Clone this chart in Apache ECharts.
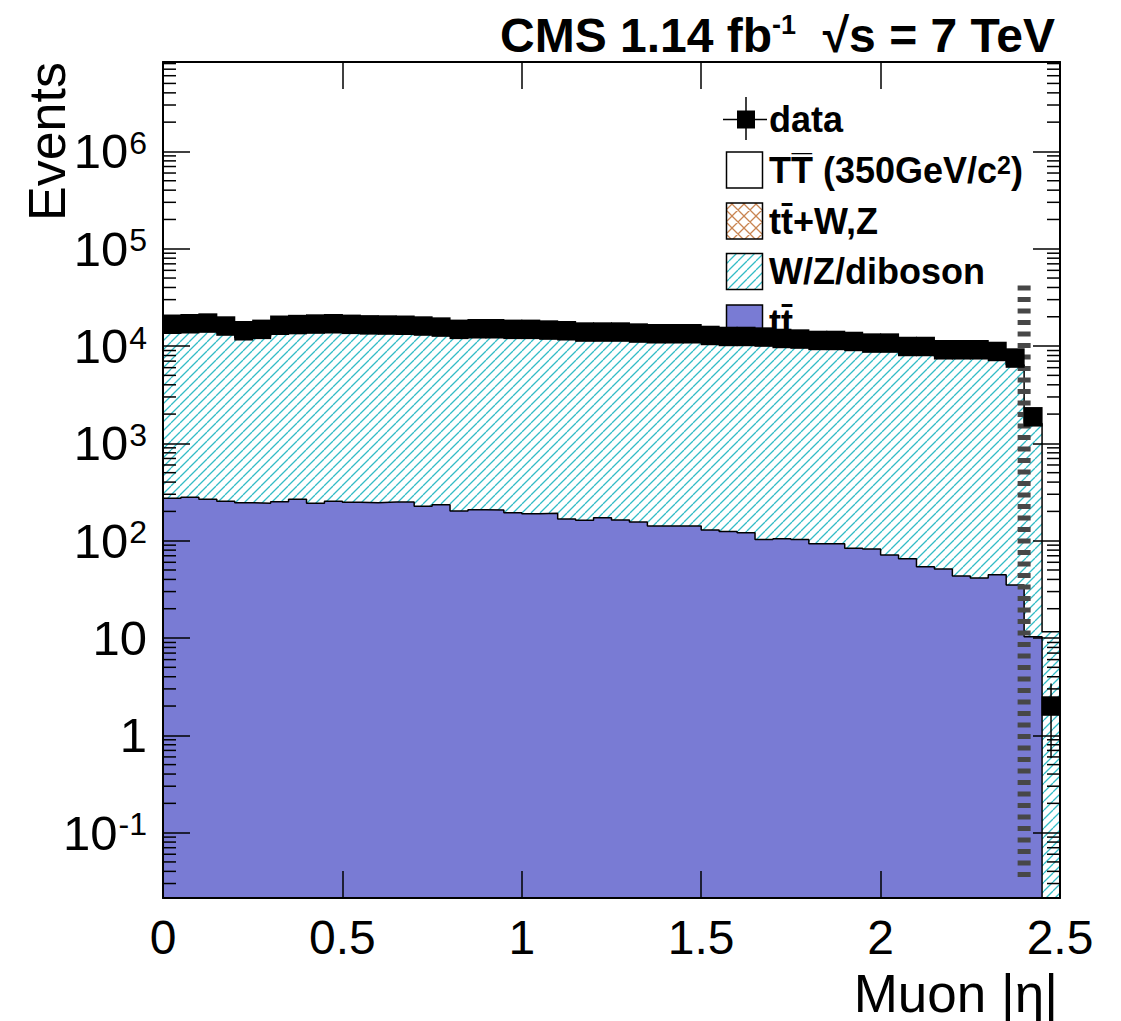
<!DOCTYPE html>
<html><head><meta charset="utf-8">
<script src="https://cdn.jsdelivr.net/npm/echarts@6/dist/echarts.min.js"></script>
<style>html,body{margin:0;padding:0;background:#fff}#c{width:1121px;height:1021px}</style>
</head><body><div id="c"></div>
<script>
// ---------------- data ----------------
const binWidth = 0.05;          // |eta| bin width
const nBins = 50;               // 0 .. 2.5
const xTickLabels = ['0', '0.5', '1', '1.5', '2', '2.5'];
const yTickExponents = [-1, 0, 1, 2, 3, 4, 5, 6];

const dataEvents = [16750, 16950, 17230, 16060, 14360, 14850, 16360, 16630, 16830, 16950,
  16720, 16510, 16440, 16360, 16060, 15670, 14850, 15060, 15060, 14850,
  14850, 14600, 14360, 13930, 13930, 13930, 13600, 13380, 13380, 13380,
  12850, 12550, 12550, 12370, 11970, 11800, 11420, 11420, 11150, 10730,
  10730, 9900, 9900, 9160, 9160, 9160, 8800, 7530, 1875, 2];

const ttbar = [273, 279, 266, 254, 246, 242, 252, 266, 242, 254,
  248, 246, 250, 250, 226, 234, 202, 208, 207, 194,
  189, 191, 167, 162, 172, 163, 156, 142, 142, 142,
  129, 124, 121, 103, 105, 103, 93, 93, 83.5, 82,
  71.3, 65.3, 54, 51.2, 43.4, 41.4, 44.7, 35, 10.3, 0];

const wzDiboson = [13970, 14130, 14380, 13400, 11960, 12380, 13660, 13870, 14070, 14150,
  13960, 13790, 13720, 13660, 13420, 13090, 12420, 12590, 12590, 12430,
  12430, 12220, 12040, 11680, 11670, 11680, 11400, 11230, 11230, 11230,
  10790, 10550, 10550, 10410, 10070, 9930, 9620, 9620, 9400, 9040,
  9050, 8350, 8360, 7740, 7740, 7750, 7430, 6370, 1590, 11.6];

const signalLineX = 2.4;                 // dashed vertical line
const signalLineRange = [0.035, 44000];

const Y_MIN = 0.0213, Y_MAX = 8.3e6;

// ---------------- helpers ----------------
const FONT = '"Liberation Sans", Arial, Helvetica, sans-serif';
function makeHatch(size, color, both) {
  const c = document.createElement('canvas');
  c.width = size; c.height = size;
  const g = c.getContext('2d');
  g.fillStyle = '#fff'; g.fillRect(0, 0, size, size);
  g.strokeStyle = color; g.lineWidth = 1.3;
  g.beginPath();
  for (let k = -1; k <= 1; k++) {
    g.moveTo(k * size, size); g.lineTo(k * size + size, 0);
    if (both) { g.moveTo(k * size, 0); g.lineTo(k * size + size, size); }
  }
  g.stroke();
  return c;
}
const hatchCanvas = makeHatch(9, '#33bcc6', false);
const crossCanvas = makeHatch(12, '#c98552', true);
const hatchPattern = { image: hatchCanvas, repeat: 'repeat' };
const crossPattern = { image: crossCanvas, repeat: 'repeat' };

function stepPoints(vals) {
  const pts = [];
  for (let i = 0; i < vals.length; i++) {
    pts.push([+(i * binWidth).toFixed(4), vals[i] > 0 ? vals[i] : Y_MIN]);
  }
  const last = vals[vals.length - 1];
  pts.push([+(vals.length * binWidth).toFixed(4), last > 0 ? last : Y_MIN]);
  return pts;
}
const totalStack = wzDiboson.map((v, i) => v + ttbar[i]);
const dataPts = dataEvents.map((v, i) => [+((i + 0.5) * binWidth).toFixed(4), v]);

const minorTickVals = [];
for (let e = -2; e <= 6; e++) for (let m = 2; m <= 9; m++) {
  const v = m * Math.pow(10, e);
  if (v > Y_MIN && v < Y_MAX) minorTickVals.push([0, v]);
}

const chart = echarts.init(document.getElementById('c'), null, { renderer: 'svg' });

const yLabelFmt = function (v) {
  const e = Math.round(Math.log10(v));
  if (yTickExponents.indexOf(e) < 0) return '';
  if (e === 0) return '{b|1}';
  if (e === 1) return '{b|10}';
  return '{b|10}{s|' + e + '}';
};
const yRich = {
  b: { fontSize: 49, fontFamily: FONT, color: '#000' },
  s: { fontSize: 32, fontFamily: FONT, color: '#000', verticalAlign: 'top', padding: [0, 0, 0, 1] }
};

const grid = { left: 163, right: 61, top: 62, bottom: 123 };

const option = {
  backgroundColor: '#fff',
  animation: false,
  grid: grid,
  xAxis: [{
    type: 'value', min: 0, max: 2.5, interval: 0.5, position: 'bottom', z: 5,
    axisLine: { show: true, onZero: false, lineStyle: { color: '#000', width: 2 } },
    axisTick: { show: true, inside: true, length: 27, lineStyle: { color: '#000', width: 1.5 } },
    axisLabel: { show: true, margin: 15, fontSize: 48, fontFamily: FONT, color: '#000',
      formatter: v => xTickLabels[Math.round(v / 0.5)] },
    splitLine: { show: false }
  }, {
    type: 'value', min: 0, max: 2.5, interval: 0.5, position: 'top', z: 5,
    axisLine: { show: true, onZero: false, lineStyle: { color: '#000', width: 2 } },
    axisTick: { show: true, inside: true, length: 27, lineStyle: { color: '#000', width: 1.5 } },
    axisLabel: { show: false }, splitLine: { show: false }
  }],
  yAxis: [{
    type: 'log', logBase: 10, min: Y_MIN, max: Y_MAX, splitNumber: 10, position: 'left', z: 5,
    axisLine: { show: true, onZero: false, lineStyle: { color: '#000', width: 2 } },
    axisTick: { show: true, inside: true, length: 27, lineStyle: { color: '#000', width: 1.5 } },
    axisLabel: { show: true, margin: 16, showMinLabel: false, showMaxLabel: false,
      formatter: yLabelFmt, rich: yRich },
    splitLine: { show: false }, minorTick: { show: false }
  }, {
    type: 'log', logBase: 10, min: Y_MIN, max: Y_MAX, splitNumber: 10, position: 'right', z: 5,
    axisLine: { show: true, onZero: false, lineStyle: { color: '#000', width: 2 } },
    axisTick: { show: true, inside: true, length: 27, lineStyle: { color: '#000', width: 1.5 } },
    axisLabel: { show: false }, splitLine: { show: false }
  }],
  series: [
    {
      name: 'W/Z/diboson', type: 'line', step: 'end', data: stepPoints(totalStack),
      showSymbol: false, symbol: 'none', z: 2, clip: true,
      lineStyle: { color: '#000', width: 1.5 },
      areaStyle: { color: hatchPattern, opacity: 1, origin: 'start' }
    },
    {
      name: 'ttbar', type: 'line', step: 'end', data: stepPoints(ttbar),
      showSymbol: false, symbol: 'none', z: 3, clip: true,
      lineStyle: { color: '#000', width: 1.5 },
      areaStyle: { color: '#797bd4', opacity: 1, origin: 'start' }
    },
    {
      name: 'signal', type: 'line', data: [[signalLineX, signalLineRange[0]], [signalLineX, signalLineRange[1]]],
      showSymbol: false, symbol: 'none', z: 4,
      lineStyle: { color: '#474747', width: 13, type: [5, 6.5], cap: 'butt' }
    },
    {
      name: 'minorTicks', type: 'custom', z: 6, silent: true,
      data: minorTickVals,
      renderItem: function (params, api) {
        const p = api.coord([0, api.value(1)]);
        const cs = params.coordSys;
        const l = cs.x, r = cs.x + cs.width;
        return { type: 'group', children: [
          { type: 'line', shape: { x1: l, y1: p[1], x2: l + 13, y2: p[1] }, style: { stroke: '#000', lineWidth: 1.5 } },
          { type: 'line', shape: { x1: r - 13, y1: p[1], x2: r, y2: p[1] }, style: { stroke: '#000', lineWidth: 1.5 } }
        ] };
      }
    },
    {
      name: 'dataErr', type: 'custom', z: 9, silent: true,
      data: dataPts,
      renderItem: function (params, api) {
        const x = api.value(0), v = api.value(1), e = Math.sqrt(v);
        const top = api.coord([x, v + e]);
        const bot = api.coord([x, Math.max(v - e, Y_MIN)]);
        return { type: 'line', shape: { x1: top[0], y1: top[1], x2: bot[0], y2: bot[1] },
          style: { stroke: '#000', lineWidth: 1.5 } };
      }
    },
    {
      name: 'data', type: 'scatter', data: dataPts, z: 10,
      symbol: 'rect', symbolSize: [19, 19.5], itemStyle: { color: '#000', opacity: 1, borderWidth: 0 }
    }
  ],
  graphic: [
    // title
    { type: 'text', right: 66, top: 11, z: 20,
      style: { text: '{t|CMS 1.14 fb}{u|-1}{t|  \u221As = 7 TeV}',
        rich: { t: { fontSize: 48, fontWeight: 'bold', fontFamily: FONT, fill: '#000' },
                u: { fontSize: 27, fontWeight: 'bold', fontFamily: FONT, fill: '#000', verticalAlign: 'top' } } } },
    // Events
    { type: 'text', x: 47, y: 62, rotation: Math.PI / 2, z: 20,
      style: { text: 'Events', fontSize: 52, fontFamily: FONT, fill: '#000', align: 'right', verticalAlign: 'middle' } },
    // Muon |eta|
    { type: 'text', x: 1058, y: 993, z: 20,
      style: { text: 'Muon |\u03b7|', fontSize: 53, fontFamily: FONT, fill: '#000', align: 'right', verticalAlign: 'middle' } },
    // legend: data
    { type: 'line', z: 3, shape: { x1: 723, y1: 119.5, x2: 767, y2: 119.5 }, style: { stroke: '#000', lineWidth: 1.5 } },
    { type: 'line', z: 3, shape: { x1: 746, y1: 97, x2: 746, y2: 140 }, style: { stroke: '#000', lineWidth: 1.5 } },
    { type: 'rect', z: 3, shape: { x: 737, y: 110.5, width: 18, height: 18 }, style: { fill: '#000' } },
    { type: 'text', z: 3, x: 769, y: 119, style: { text: 'data', fontSize: 36, fontWeight: 'bold', fontFamily: FONT, fill: '#000', verticalAlign: 'middle' } },
    // TTbar signal
    { type: 'rect', z: 3, shape: { x: 726.5, y: 152, width: 36, height: 36 }, style: { fill: '#fff', stroke: '#000', lineWidth: 1.5 } },
    { type: 'text', z: 3, x: 769, y: 170, style: { text: '{a|TT\u0305 (350GeV/c}{s|2}{a|)}', rich: {
        a: { fontSize: 36, fontWeight: 'bold', fontFamily: FONT, fill: '#000' },
        s: { fontSize: 25, fontWeight: 'bold', fontFamily: FONT, fill: '#000', verticalAlign: 'top' } }, verticalAlign: 'middle' } },
    // ttbar + W,Z
    { type: 'rect', z: 3, shape: { x: 726.5, y: 203, width: 36, height: 36 }, style: { fill: crossPattern, stroke: '#000', lineWidth: 1.5 } },
    { type: 'text', z: 3, x: 769, y: 221, style: { text: 'tt\u0304+W,Z', fontSize: 36, fontWeight: 'bold', fontFamily: FONT, fill: '#000', verticalAlign: 'middle' } },
    // W/Z/diboson
    { type: 'rect', z: 3, shape: { x: 726.5, y: 253.5, width: 36, height: 36 }, style: { fill: hatchPattern, stroke: '#000', lineWidth: 1.5 } },
    { type: 'text', z: 3, x: 769, y: 271.5, style: { text: 'W/Z/diboson', fontSize: 36, fontWeight: 'bold', fontFamily: FONT, fill: '#000', verticalAlign: 'middle' } },
    // ttbar
    { type: 'rect', z: 3, shape: { x: 726.5, y: 305, width: 36, height: 36 }, style: { fill: '#797bd4', stroke: '#000', lineWidth: 1.5 } },
    { type: 'text', z: 3, x: 769, y: 322, style: { text: 'tt\u0304', fontSize: 36, fontWeight: 'bold', fontFamily: FONT, fill: '#000', verticalAlign: 'middle' } }
  ]
};
chart.setOption(option);
</script></body></html>
